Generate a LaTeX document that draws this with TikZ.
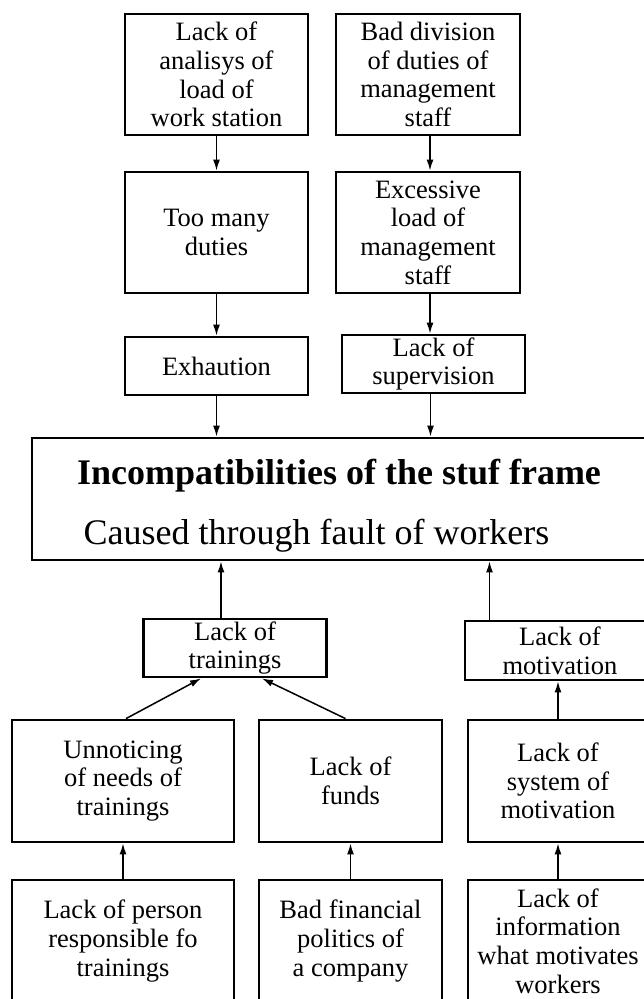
\documentclass[tikz,border=0pt]{standalone}
\usepackage{fontspec}
\setmainfont{Liberation Serif}
\usetikzlibrary{arrows.meta}
\newcommand\boxfont{\fontsize{26.5}{28.6}\selectfont}
\tikzset{
  box/.style={draw, line width=2.8pt, align=center, font=\boxfont, inner sep=0pt},
  arr/.style={line width=1.5pt, -{Latex[length=11pt,width=7pt]}}
}
\begin{document}
\begin{tikzpicture}[x=1pt,y=-1pt]
\useasboundingbox (0,0) rectangle (643,999);
% top rows
\node[box, minimum width=183pt, minimum height=121pt] (A) at (216.5,74.5) {Lack of\\analisys of\\load of\\work station};
\node[box, minimum width=184pt, minimum height=121pt] (B) at (428,74.5) {Bad division\\of duties of\\management\\staff};
\node[box, minimum width=183pt, minimum height=121pt] (C) at (216.5,232.5) {Too many\\duties};
\node[box, minimum width=184pt, minimum height=121pt] (D) at (428,232.5) {Excessive\\load of\\management\\staff};
\node[box, minimum width=183pt, minimum height=58pt] (E) at (216.5,366) {Exhaution};
\node[box, minimum width=183pt, minimum height=58pt] (F) at (433.5,364) {Lack of\\supervision};
% big box
\node[draw, line width=2.8pt, minimum width=613pt, minimum height=122pt, inner sep=0pt] (big) at (338.5,499) {};
\node[anchor=base, inner sep=0pt, font=\fontsize{36}{40}\selectfont\bfseries] (title) at (339,484) {Incompatibilities of the stuf frame};
\node[anchor=base, inner sep=0pt, font=\fontsize{36}{40}\selectfont] (sub) at (316.5,544) {Caused through fault of workers};
% middle
\node[box, minimum width=183.5pt, minimum height=58pt] (tr) at (235,648) {Lack of\\trainings};
\node[box, minimum width=190pt, minimum height=59pt] (mot) at (560,650.5) {Lack of\\motivation};
% row 3
\node[box, minimum width=222pt, minimum height=122pt] (un) at (123,781) {Unnoticing\\of needs of\\trainings};
\node[box, minimum width=183pt, minimum height=122pt] (fu) at (350.5,781) {Lack of\\funds};
\node[box, minimum width=180pt, minimum height=122pt] (sys) at (558,781) {Lack of\\system of\\motivation};
% row 4
\node[box, minimum width=222pt, minimum height=122pt] (pe) at (123,941) {Lack of person\\responsible fo\\trainings};
\node[box, minimum width=183pt, minimum height=122pt] (fi) at (350.5,941) {Bad financial\\politics of\\a company};
\node[box, minimum width=180pt, minimum height=122pt] (inf) at (558,941) {Lack of\\information\\what motivates\\workers};
% arrows
\draw[arr] (A.south) -- (C.north);
\draw[arr] ([xshift=2pt]B.south) -- ([xshift=2pt]D.north);
\draw[arr] (C.south) -- (E.north);
\draw[arr] ([xshift=2pt]D.south) -- ([xshift=-3.5pt]F.north);
\draw[arr] (E.south) -- (E.south |- big.north);
\draw[arr] ([xshift=-3pt]F.south) -- ([xshift=-3pt]F.south |- big.north);
\draw[arr] ([xshift=-14pt]tr.north) -- ([xshift=-14pt]tr.north |- big.south);
\draw[arr] ([xshift=-70.5pt]mot.north) -- ([xshift=-70.5pt]mot.north |- big.south);
\draw[arr] ([xshift=3pt]un.north) -- ([xshift=-34pt]tr.south);
\draw[arr] ([xshift=-5pt]fu.north) -- ([xshift=27pt]tr.south);
\draw[arr] (sys.north) -- (sys.north |- mot.south);
\draw[arr] (pe.north) -- (un.south);
\draw[arr] (fi.north) -- (fu.south);
\draw[arr] (inf.north) -- (sys.south);
\end{tikzpicture}
\end{document}
